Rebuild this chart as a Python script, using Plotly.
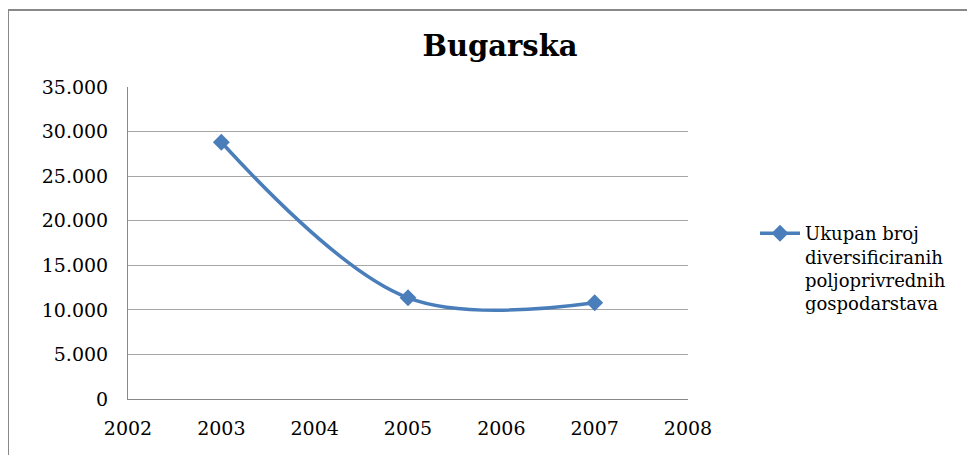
import plotly.graph_objects as go

years = [2003, 2005, 2007]
values = [28800, 11350, 10800]
series_name = "Ukupan broj<br>diversificiranih<br>poljoprivrednih<br>gospodarstava"
y_tick_vals = [0, 5000, 10000, 15000, 20000, 25000, 30000, 35000]
y_tick_text = ["0", "5.000", "10.000", "15.000", "20.000", "25.000", "30.000", "35.000"]
x_tick_vals = [2002, 2003, 2004, 2005, 2006, 2007, 2008]

OFF = 8  # default page body margin
W, H = 975 - OFF, 455 - OFF
L, T = 128 - OFF, 87 - OFF
plot_right, plot_bottom = 688 - OFF, 399 - OFF
R, B = W - plot_right, H - plot_bottom
pw, ph = plot_right - L, plot_bottom - T

font_family = "DejaVu Serif"

fig = go.Figure()
fig.add_trace(go.Scatter(
    x=years, y=values, name=series_name, mode="lines+markers",
    line=dict(color="#4A7EBB", width=3.5, shape="spline", smoothing=1.0),
    marker=dict(symbol="diamond", size=13, color="#4A7EBB"),
    showlegend=True,
))

fig.update_layout(
    width=W, height=H,
    margin=dict(l=L, r=R, t=T, b=B),
    paper_bgcolor="white", plot_bgcolor="white",
    font=dict(family=font_family, size=18, color="black"),
    title=dict(text="<b>Bugarska</b>", x=(500 - OFF) / W, xanchor="center",
               y=1 - (46 - OFF) / H, yanchor="middle",
               font=dict(family=font_family, size=29, color="black")),
    legend=dict(x=(747 - L) / pw, y=(plot_bottom - 207) / ph, xanchor="left", yanchor="top",
                font=dict(family=font_family, size=18, color="black"), bgcolor="rgba(0,0,0,0)",
                valign="top", itemwidth=40, tracegroupgap=0),
    xaxis=dict(range=[2002, 2008], tickvals=x_tick_vals, ticktext=[str(v) for v in x_tick_vals],
               showgrid=False, zeroline=False, showline=True, linecolor="#888888", linewidth=1,
               ticks="", ticklabelstandoff=12, tickfont=dict(size=19), fixedrange=True),
    yaxis=dict(range=[0, 35000], tickvals=y_tick_vals, ticktext=y_tick_text,
               showgrid=True, gridcolor="#A6A6A6", gridwidth=1, zeroline=False,
               showline=True, linecolor="#888888", linewidth=1,
               ticks="", ticklabelstandoff=15, tickfont=dict(size=19), fixedrange=True),
    shapes=[dict(type="rect", xref="paper", yref="paper",
                 x0=(0 - L) / pw, x1=(990 - L) / pw,
                 y0=(plot_bottom - 470) / ph, y1=(plot_bottom - 2) / ph,
                 line=dict(color="#888888", width=2), fillcolor="rgba(0,0,0,0)", layer="below")],
)

fig.write_html("out.html")
